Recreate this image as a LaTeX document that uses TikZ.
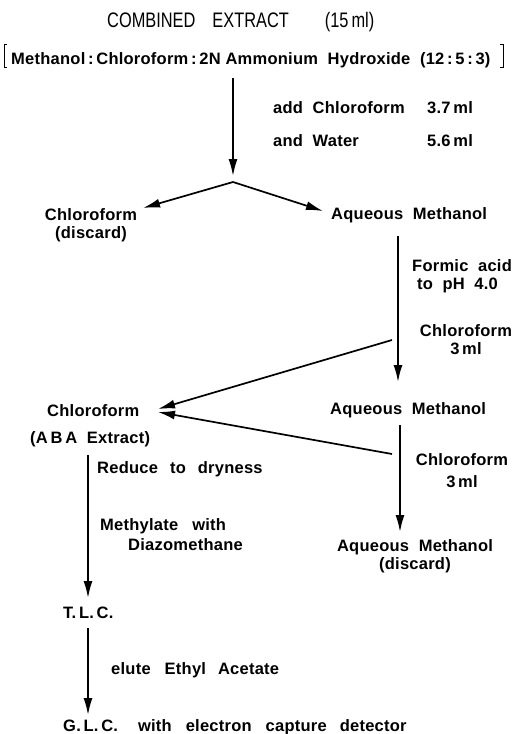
\documentclass[tikz,border=0pt]{standalone}
\usepackage{fontspec}
\setmainfont{Liberation Sans}[LetterSpace=1.5]
\newfontfamily\titlefont{Liberation Sans}[FakeStretch=0.78]
\usetikzlibrary{arrows.meta}

\tikzset{
  lbl/.style={inner sep=0pt, anchor=base west, font=\fontsize{16.5}{18}\selectfont\bfseries},
  flow/.style={line width=1.7pt, -{Latex[length=17pt,width=9pt]}},
}

\begin{document}
\begin{tikzpicture}[x=1pt,y=-1pt]
  \useasboundingbox (0,0) rectangle (514,734);

  \node[inner sep=0pt, anchor=base west, font=\titlefont\fontsize{21}{24}\selectfont] (title) at (107,27) {COMBINED\hspace{17pt}EXTRACT\hspace{36pt}(15\hspace{3pt}ml)};
  \node[lbl] (mix) at (11,64) {Methanol\,:\,Chloroform\,:\,2N Ammonium\ \ Hydroxide\ \ (12\,:\,5\,:\,3)};
  \draw[line width=0.8pt] (7,44) -- (4,44) -- (4,67) -- (7,67);
  \draw[line width=0.8pt] (500,44) -- (503,44) -- (503,67) -- (500,67);

  \node[lbl] (add) at (273,113) {\makebox[154pt][l]{add\ \ Chloroform}3.7\,ml};
  \node[lbl] (water) at (273,146) {\makebox[154pt][l]{and\ \ Water}5.6\,ml};

  \node[lbl, anchor=base, align=center] (chl1) at (91,238) {Chloroform\\(discard)};
  \node[lbl] (aq1) at (331,219) {Aqueous\ \ Methanol};
  \node[lbl, align=left] (formic) at (412,289) {Formic\ \ acid\\\ to\ \ pH\ \ 4.0};
  \node[lbl, anchor=base, align=center] (chl2) at (466,354) {Chloroform\\3\,ml};

  \node[lbl] (aba) at (47,416) {Chloroform};
  \node[lbl] (abaext) at (30,443) {(A\,B\,A\ \ Extract)};
  \node[lbl] (aq2) at (330,414) {Aqueous\ \ Methanol};
  \node[lbl, anchor=base, align=center] (chl3) at (462,487) {Chloroform\\[4pt]3\,ml};

  \node[lbl] (reduce) at (97,473) {Reduce\hspace{12pt}to\hspace{12pt}dryness};
  \node[lbl, align=left] (methyl) at (100,550) {Methylate\hspace{14pt}with\\[2pt]\hspace{28pt}Diazomethane};
  \node[lbl, anchor=base, align=center] (aq3) at (415,569) {Aqueous\ \ Methanol\\(discard)};

  \node[lbl] (tlc) at (63,618) {T.\,L.\,C.};
  \node[lbl] (elute) at (111,674) {elute\hspace{14pt}Ethyl\hspace{12pt}Acetate};
  \node[lbl] (glc) at (63,731) {G.\,L.\,C.\hspace{20pt}with\hspace{14pt}electron\hspace{14pt}capture\hspace{13pt}detector};

  % split after adding chloroform and water
  \coordinate (split) at (233,182);
  \draw[flow] (233,78) -- (233,176);
  \draw[flow] (split) -- (143,208);
  \draw[flow] (split) -- (323,211);

  % aqueous methanol column
  \draw[flow] (398,236) -- (398,382);
  \draw[flow] (400,425) -- (400,532);
  \draw[flow] (392,340) -- (158,409);
  \draw[flow] (392,454) -- (158,412);

  % chloroform (ABA) column
  \draw[flow] (88,455) -- (88,598);
  \draw[flow] (88,628) -- (88,715);
\end{tikzpicture}
\end{document}
